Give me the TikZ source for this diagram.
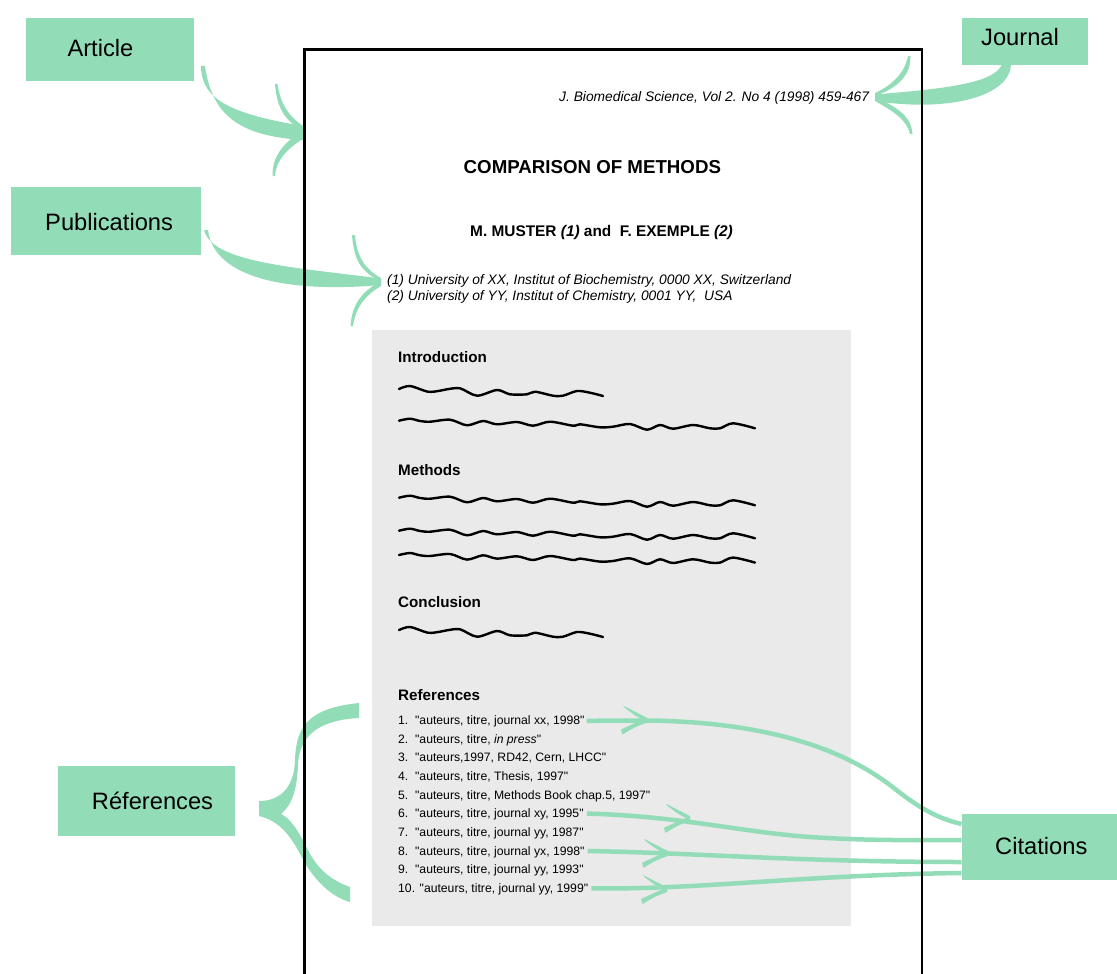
\documentclass[tikz,border=0pt]{standalone}
\usepackage{fontspec}
\setmainfont{Liberation Sans}[Ligatures=TeXOff]
\definecolor{grn}{RGB}{146,221,184}
\definecolor{paper}{RGB}{234,234,234}
\newcommand{\citehead}[1]{%
  \begin{scope}[shift={#1}]
    \fill[grn] (-24,-14.5) .. controls (-12,-9) .. (0,-2.2) -- (0,2) .. controls (-13,-5) .. (-22.5,-12.5) -- cycle;
    \fill[grn] (0,-2) .. controls (-12,3) .. (-26,9.5) -- (-24.5,14.5) .. controls (-12,7) .. (0,2.5) -- cycle;
  \end{scope}}
\begin{document}
\begin{tikzpicture}[x=1pt,y=-1pt,
  gbox/.style={fill=grn, draw=none, inner sep=0pt, rectangle},
  lbltext/.style={inner sep=0pt, anchor=base west, font=\fontsize{23.7}{28}\selectfont},
  txt/.style={inner sep=0pt, anchor=base west},
  head/.style={txt, font=\fontsize{15.2}{18}\selectfont\bfseries},
  item/.style={txt, font=\fontsize{12.2}{14}\selectfont},
  wave/.style={line width=2.4pt, black, line join=round, line cap=round},
  cite/.style={draw=grn, line width=4.5pt}]
\useasboundingbox (0,0) rectangle (1117,974);
\clip (0,0) rectangle (1117,974);

% grey content area
\fill[paper] (372,330) rectangle (851,926);

% label boxes
\node[gbox, minimum width=168pt, minimum height=62.4pt] (articlebox) at (110,49.5) {};
\node[gbox, minimum width=126.3pt, minimum height=47pt] (journalbox) at (1024.9,41.5) {};
\node[gbox, minimum width=190pt, minimum height=67.7pt] (pubbox) at (106,221.2) {};
\node[gbox, minimum width=176.7pt, minimum height=69.7pt] (refbox) at (146.7,800.9) {};
\node[gbox, minimum width=155.3pt, minimum height=66pt] (citbox) at (1039.4,847) {};

\node[lbltext] (articletext) at (67.3,56.7) {Article};
\node[lbltext] (journaltext) at (981,46) {Journal};
\node[lbltext] (pubtext) at (45,230) {Publications};
\node[lbltext] (reftext) at (91.7,809) {Réferences};
\node[lbltext] (cittext) at (995,854.5) {Citations};

% page texts
\node[txt, font=\fontsize{13.8}{16}\selectfont\itshape] (jref) at (559,101.7) {J. Biomedical Science, Vol 2. No 4 (1998) 459-467};
\node[txt, font=\fontsize{18.7}{22}\selectfont\bfseries] (title) at (463.5,173.3) {COMPARISON OF METHODS};
\node[txt, font=\fontsize{15.4}{18}\selectfont\bfseries] (authors) at (470,236.7) {M. MUSTER \textit{(1)} and\ \ F. EXEMPLE \textit{(2)}};
\node[txt, font=\fontsize{13.8}{16}\selectfont\itshape] (aff1) at (387,284.3) {(1) University of XX, Institut of Biochemistry, 0000 XX, Switzerland};
\node[txt, font=\fontsize{13.8}{16}\selectfont\itshape] (aff2) at (387,300.3) {(2) University of YY, Institut of Chemistry, 0001 YY,\ \ USA};

\node[head] (intro) at (398,362) {Introduction};
\node[head] (methods) at (398,475) {Methods};
\node[head] (concl) at (398,607) {Conclusion};
\node[head] (refs) at (398,700.3) {References};

\node[item] (ref1) at (398,724.3) {1.\ \ "auteurs, titre, journal xx, 1998"};
\node[item] (ref2) at (398,743.0) {2.\ \ "auteurs, titre, \textit{in press}"};
\node[item] (ref3) at (398,761.6) {3.\ \ "auteurs,1997, RD42, Cern, LHCC"};
\node[item] (ref4) at (398,780.3) {4.\ \ "auteurs, titre, Thesis, 1997"};
\node[item] (ref5) at (398,799.0) {5.\ \ "auteurs, titre, Methods Book chap.5, 1997"};
\node[item] (ref6) at (398,817.6) {6.\ \ "auteurs, titre, journal xy, 1995"};
\node[item] (ref7) at (398,836.3) {7.\ \ "auteurs, titre, journal yy, 1987"};
\node[item] (ref8) at (398,855.0) {8.\ \ "auteurs, titre, journal yx, 1998"};
\node[item] (ref9) at (398,873.6) {9.\ \ "auteurs, titre, journal yy, 1993"};
\node[item] (ref10) at (398,892.3) {10. "auteurs, titre, journal yy, 1999"};

% ---- green arrows ----
% Article arrow
\fill[grn] (201,66) .. controls (201,100) and (232,114) .. (303,126)
  -- (303,140) .. controls (240,136) and (212,116) .. (205,66) -- cycle;
\fill[grn] (275,84) .. controls (277,112) and (288,122) .. (303,131)
  -- (303,126) .. controls (292,118) and (281,108) .. (277.5,84) -- cycle;
\fill[grn] (303,130) .. controls (285,142) and (272,155) .. (272.5,176)
  -- (275,176) .. controls (276,160) and (288,148) .. (303,139) -- cycle;

% Journal arrow
\fill[grn] (1002,64) .. controls (995,84) and (940,89) .. (875,94.5)
  -- (875,101) .. controls (945,112) and (1010,98) .. (1011,64) -- cycle;
\fill[grn] (910.5,56) .. controls (911,75) and (898,88) .. (875,96)
  -- (875,93) .. controls (893,85) and (905,72) .. (908,56) -- cycle;
\fill[grn] (875,97) .. controls (896,107) and (911,115) .. (912.5,134)
  -- (910,134) .. controls (907,120) and (893,111) .. (875,101) -- cycle;

% Publications arrow
\fill[grn] (204,230) .. controls (212,262) and (290,267) .. (381,278.5)
  -- (381,285) .. controls (290,293) and (214,279) .. (208,230) -- cycle;
\fill[grn] (352,235) .. controls (354,262) and (362,272) .. (381,281.5)
  -- (381,278) .. controls (366,270) and (357,258) .. (355,235) -- cycle;
\fill[grn] (381,281) .. controls (363,291) and (352,303) .. (350.5,326)
  -- (353,326) .. controls (356,306) and (366,295) .. (381,286) -- cycle;

% References brace
\fill[grn] (359,703) .. controls (310,708) and (296,725) .. (295,760)
  .. controls (294,790) and (278,801) .. (259,801) -- (259,816)
  .. controls (285,822) and (295,845) .. (305,863)
  .. controls (318,885) and (335,898) .. (350,902) -- (350,887)
  .. controls (330,880) and (317,868) .. (308,850)
  .. controls (298,830) and (290,818) .. (281,814)
  .. controls (292,805) and (297,790) .. (298,765)
  .. controls (299,735) and (320,720) .. (359,718) -- cycle;

% Citation connectors
\draw[cite] ([xshift=2pt,yshift=3.5pt]ref1.base east) -- (647,720.5)
  .. controls (780,722) and (850,755) .. (890,785)
  .. controls (915,805) and (935,818) .. ([yshift=23pt]citbox.west);
\draw[cite] ([xshift=3pt,yshift=4pt]ref6.base east) .. controls (680,816) and (740,832) .. (810,837)
  .. controls (870,841) and (920,840) .. ([yshift=7pt]citbox.west);
\draw[cite] ([xshift=3pt,yshift=4pt]ref8.base east) .. controls (700,853) and (800,862) .. ([yshift=-15pt]citbox.west);
\draw[cite] ([xshift=3pt,yshift=4pt]ref10.base east) .. controls (700,890) and (800,875) .. ([yshift=-26pt]citbox.west);
\citehead{(647,720)}
\citehead{(690,818.3)}
\citehead{(668,853.3)}
\citehead{(667,889.5)}

% page border
\draw[line width=2.4pt] (304.5,980) -- (304.5,49.5) -- (922,49.5) -- (922,980);

% wavy text lines
\newcommand{\shortwave}{(0,0) (11,-3) (29,2.7) (41,1.7) (48,0.3) (61,-0.7) (78,6.7) (98,1) (111,5.3) (128,5.3) (136,2.7) (154,6.7) (164,6.7) (178,2) (191,3.7) (204,7)}
\newcommand{\longwave}{(0,0) (11,-2) (21,0.3) (31,1) (51,-1) (68,4.6) (84,0.3) (98,3.6) (118,1.3) (134,5) (151,1) (174,5) (181,3.6) (201,6.6) (214,6) (231,3.3) (248,9) (261,4.3) (274,8) (294,4.3) (311,7.6) (321,7.6) (334,2.6) (356,7.6)}
\draw[wave, shift={(399,389)}] plot[smooth, tension=0.5] coordinates {\shortwave};
\draw[wave, shift={(399,420.7)}] plot[smooth, tension=0.5] coordinates {\longwave};
\draw[wave, shift={(399,497.7)}] plot[smooth, tension=0.5] coordinates {\longwave};
\draw[wave, shift={(399,530.7)}] plot[smooth, tension=0.5] coordinates {\longwave};
\draw[wave, shift={(399,555)}] plot[smooth, tension=0.5] coordinates {\longwave};
\draw[wave, shift={(399,630)}] plot[smooth, tension=0.5] coordinates {\shortwave};
\end{tikzpicture}
\end{document}
